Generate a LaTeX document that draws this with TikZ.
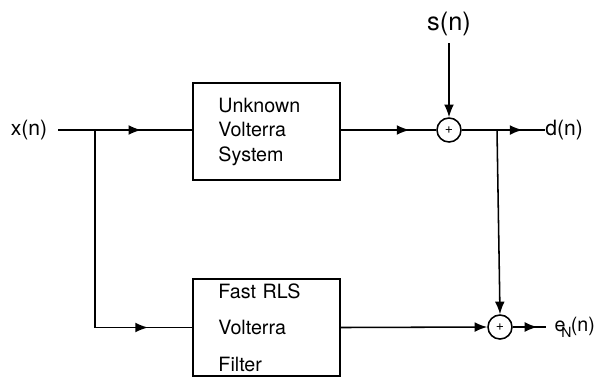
\documentclass[tikz,border=0pt]{standalone}
\usepackage{fontspec}
\setmainfont{TeX Gyre Heros}
\usetikzlibrary{arrows.meta,decorations.markings}

\tikzset{
  wire/.style={line width=1.1pt},
  tip/.style={-{Latex[length=9pt,width=7pt]}},
  midarrow/.style={postaction={decorate},
    decoration={markings, mark=at position #1 with {\arrow{Latex[length=9pt,width=7pt]}}}},
  block/.style={draw, line width=1.1pt, minimum width=3.675cm, minimum height=2.425cm,
    text width=2.4cm, inner xsep=0.625cm, align=left},
  sum/.style={draw, circle, line width=1.1pt, minimum size=0.6cm, inner sep=0pt,
    font=\fontsize{10}{10}\selectfont},
  label/.style={font=\fontsize{15}{18}\selectfont}
}

\begin{document}
\begin{tikzpicture}[x=0.025cm, y=-0.025cm]
    \useasboundingbox (0,0) rectangle (597,378);

    % Blocks and adders
    \node[block, font=\fontsize{14}{17.4}\selectfont] (system) at (266.5,131.5)
        {Unknown\\Volterra\\System};
    \node[block, font=\fontsize{14}{26}\selectfont] (filter) at (266.5,327.5)
        {Fast RLS\\Volterra\\Filter};
    \node[sum] (add1) at (449,130) {+};
    \node[sum] (add2) at (500,327) {+};

    % Signals
    \node[label, anchor=east, inner xsep=7.5pt] (xn) at (58,130) {x(n)};
    \node[font=\fontsize{18}{21}\selectfont, anchor=south, inner sep=5pt] (sn) at (449,43) {s(n)};
    \node[label, anchor=west, inner sep=0pt] (dn) at (545,130) {d(n)};
    \node[font=\fontsize{14}{16}\selectfont, anchor=west, inner xsep=6pt, inner ysep=0pt] (en) at (546,327)
        {e\kern-3pt\raisebox{-4pt}{\fontsize{10}{10}\selectfont N}\kern-0.5pt(n)};
    \coordinate (xsplit) at (95,130);
    \coordinate (dsplit) at (497,130);

    % Connections
    \draw[wire, midarrow=0.62] (xn.east) -- (system.west |- xn.east);
    \draw[wire, midarrow=0.85] (xsplit) |- (filter.west);
    \draw[wire, midarrow=0.72] (system.east |- add1.west) -- (add1.west);
    \draw[wire, tip] (sn.south) -- (add1.north);
    \draw[wire, midarrow=0.73] (add1.east) -- (dn.west);
    \draw[wire, tip] (dsplit) -- (add2.north);
    \draw[wire, tip] (filter.east) -- (add2.west);
    \draw[wire, midarrow=0.74] (add2.east) -- (en.west);
\end{tikzpicture}
\end{document}
